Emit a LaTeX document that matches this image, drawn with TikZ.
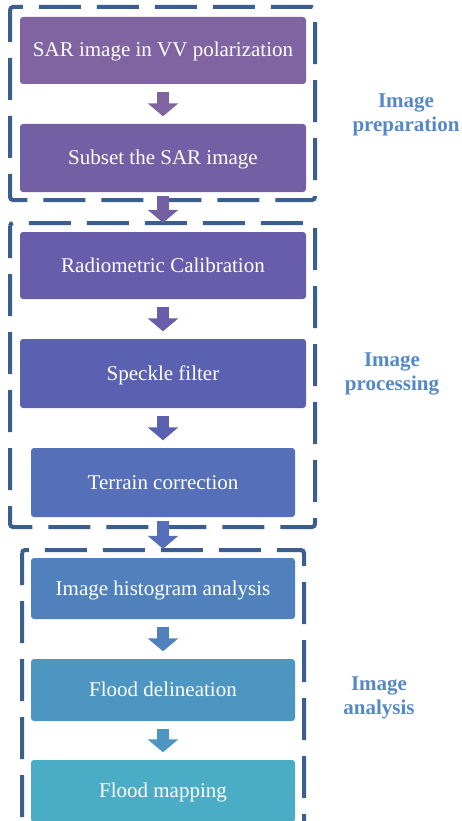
\documentclass[tikz,border=0pt]{standalone}
\usepackage{fontspec}
\setmainfont{Liberation Serif}
\usetikzlibrary{arrows.meta}

\definecolor{stepone}{HTML}{8064A2}
\definecolor{steptwo}{HTML}{735FA4}
\definecolor{stepthree}{HTML}{675DAB}
\definecolor{stepfour}{HTML}{5B61B1}
\definecolor{stepfive}{HTML}{5570B9}
\definecolor{stepsix}{HTML}{5181BC}
\definecolor{stepseven}{HTML}{4D96C1}
\definecolor{stepeight}{HTML}{4BACC6}
\definecolor{frameblue}{HTML}{3A5F8E}
\definecolor{stageblue}{HTML}{5588C6}

\begin{document}
\begin{tikzpicture}[x=1pt,y=-1pt,
    stepbox/.style={rounded corners=3pt, inner sep=0pt, text=white,
        text height=15pt, text depth=2pt,
        font=\fontsize{21}{25}\selectfont},
    wide/.style={minimum width=286pt},
    narrow/.style={minimum width=264pt},
    frame/.style={draw=frameblue, line width=4pt, rounded corners=3pt,
        dash pattern=on 42pt off 16pt, dash phase=10pt},
    flow/.style={line width=12pt, shorten <=7.5pt, shorten >=7.5pt,
        -{Triangle[width=30pt,length=13pt]}},
    cross/.style={shorten <=4pt, shorten >=9pt},
    stage/.style={align=center, text=stageblue,
        font=\bfseries\fontsize{21}{24}\selectfont}]

    % picture size and cut at the bottom
    \useasboundingbox (0,0) rectangle (461,821);
    \clip (0,0) rectangle (461,821);

    % Dashed frames round the three stages
    \draw[frame] (10,7) rectangle (315,200);
    \draw[frame] (10,223) rectangle (315,527);
    \draw[frame] (22,550) rectangle (304,850);

    % Steps
    \node[stepbox, wide, fill=stepone, minimum height=67pt] (sar) at (163,50.5) {SAR image in VV polarization};
    \node[stepbox, wide, fill=steptwo, minimum height=68pt] (subset) at (163,158) {Subset the SAR image};
    \node[stepbox, wide, fill=stepthree, minimum height=67pt] (calib) at (163,265.5) {Radiometric Calibration};
    \node[stepbox, wide, fill=stepfour, minimum height=69pt] (speckle) at (163,373.5) {Speckle filter};
    \node[stepbox, narrow, fill=stepfive, minimum height=69pt] (terrain) at (163,482.5) {Terrain correction};
    \node[stepbox, narrow, fill=stepsix, minimum height=61pt] (histo) at (163,588.5) {Image histogram analysis};
    \node[stepbox, narrow, fill=stepseven, minimum height=62pt] (delin) at (163,690) {Flood delineation};
    \node[stepbox, narrow, fill=stepeight, minimum height=62pt] (mapping) at (163,791) {Flood mapping};

    % Block arrows between the steps
    \draw[flow, stepone] (sar) -- (subset);
    \draw[flow, cross, steptwo] (subset) -- (calib);
    \draw[flow, stepthree] (calib) -- (speckle);
    \draw[flow, stepfour] (speckle) -- (terrain);
    \draw[flow, cross, stepfive] (terrain) -- (histo);
    \draw[flow, stepsix] (histo) -- (delin);
    \draw[flow, stepseven] (delin) -- (mapping);

    % Stage labels
    \node[stage] (prep) at (406,115) {Image\\preparation};
    \node[stage] (proc) at (392,374) {Image\\processing};
    \node[stage] (anal) at (379,698) {Image\\analysis};
\end{tikzpicture}
\end{document}
